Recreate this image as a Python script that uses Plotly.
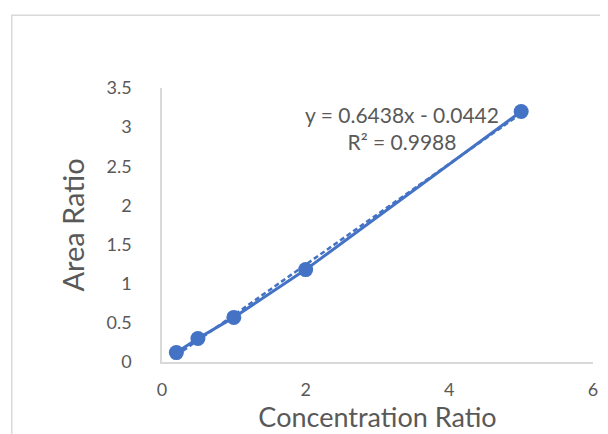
import plotly.graph_objects as go
import numpy as np

conc_ratio = [0.2, 0.5, 1, 2, 5]
area_ratio = [0.12, 0.30, 0.57, 1.18, 3.20]
slope = 0.6438
intercept = -0.0442
r_squared = 0.9988
x_ticks = [0, 2, 4, 6]
y_ticks = [0, 0.5, 1, 1.5, 2, 2.5, 3, 3.5]

blue = "#4472C4"
grey_text = "#595959"
font_family = "Lato, Open Sans, sans-serif"

fig = go.Figure()
trend_x = np.array([min(conc_ratio), max(conc_ratio)])
fig.add_trace(go.Scatter(x=trend_x, y=slope * trend_x + intercept, mode="lines",
                         line=dict(color=blue, width=2.5, dash="5px,3px"), showlegend=False,
                         hoverinfo="skip"))
fig.add_trace(go.Scatter(x=conc_ratio, y=area_ratio, mode="lines+markers",
                         line=dict(color=blue, width=3),
                         marker=dict(color=blue, size=15), showlegend=False))

# page has 8px body margin: figure sits at (8, 8)
OFF = 8
W, H = 608 - OFF, 434 - OFF
L, T = 162 - OFF, 88 - OFF
R = W - (598 - OFF)
B = H - (363 - OFF)
pw, ph = W - L - R, H - T - B

fig.update_layout(
    width=W, height=H,
    margin=dict(l=L, r=R, t=T, b=B, pad=0),
    paper_bgcolor="white", plot_bgcolor="white",
    font=dict(family=font_family, color=grey_text),
    xaxis=dict(range=[0, 6], tickvals=x_ticks, showgrid=False, zeroline=False,
               showline=True, linecolor="#D9D9D9", linewidth=1.5,
               tickfont=dict(size=18, color=grey_text), ticks="",
               ticklabelstandoff=11,
               title=dict(text="Concentration Ratio", font=dict(size=27, color=grey_text), standoff=5)),
    yaxis=dict(range=[0, 3.5], tickvals=y_ticks, ticktext=[f"{v:g}" for v in y_ticks],
               showgrid=False, zeroline=False,
               showline=True, linecolor="#D9D9D9", linewidth=1.5,
               tickfont=dict(size=18, color=grey_text), ticks="",
               ticklabelstandoff=25,
               title=dict(text="Area Ratio", font=dict(size=29, color=grey_text), standoff=13)),
)

sign = "-" if intercept < 0 else "+"
fig.add_annotation(x=3.34, y=2.99, xref="x", yref="y",
                   text=f"y = {slope}x {sign} {abs(intercept)}<br>R² = {r_squared}",
                   showarrow=False, font=dict(size=21, color=grey_text), align="center")

# chart frame
x0 = (10 - OFF - L) / pw
y1 = 1 + (T - (15 - OFF)) / ph
fig.add_shape(type="rect", xref="paper", yref="paper", x0=x0, y0=-0.6, x1=1.2, y1=y1,
              line=dict(color="#D9D9D9", width=1.5), layer="below")

fig.write_html("out.html")
